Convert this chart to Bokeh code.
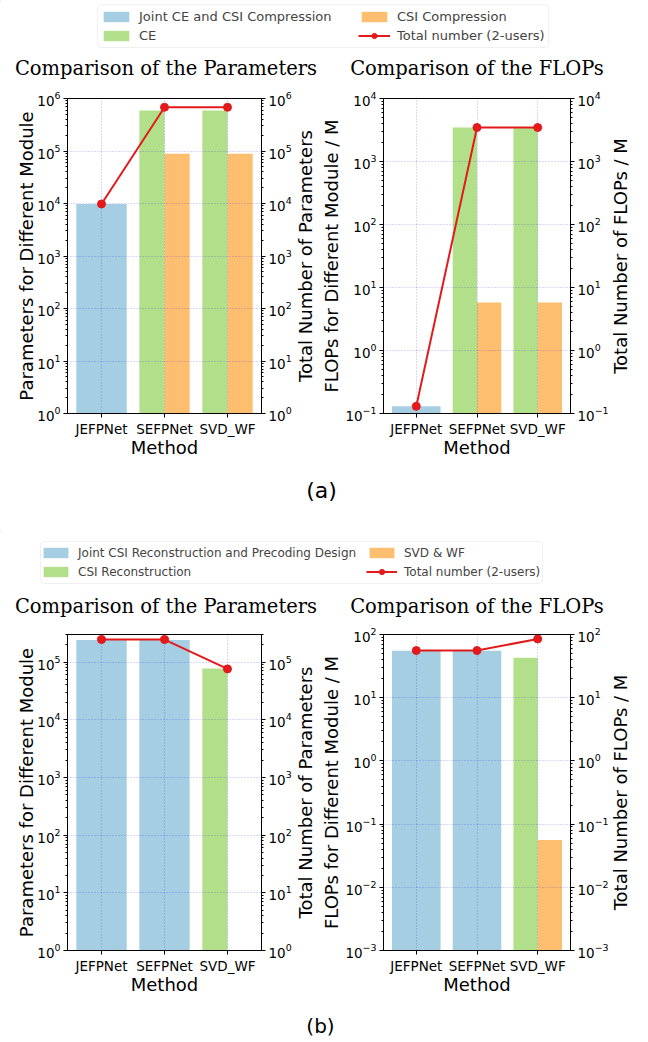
import math
from bokeh.plotting import figure
from bokeh.models import (Range1d, FactorRange, LogAxis, LogScale, Legend, LegendItem,
                          Label, ColumnDataSource, FixedTicker, BoxAnnotation)
from bokeh.layouts import column, row
from bokeh.transform import dodge
from bokeh.embed import file_html
from bokeh.resources import INLINE

methods = ["JEFPNet", "SEFPNet", "SVD_WF"]

# ---- (a) ----
a_param_joint = [9.8e3, None, None]
a_param_ce = [None, 5.9e5, 5.9e5]
a_param_comp = [None, 8.9e4, 8.9e4]
a_param_total = [9.8e3, 6.8e5, 6.8e5]
a_flops_joint = [0.13, None, None]
a_flops_ce = [None, 3.45e3, 3.45e3]
a_flops_comp = [None, 5.8, 5.8]
a_flops_total = [0.13, 3.46e3, 3.46e3]
a_labels = ["Joint CE and CSI Compression", "CE", "CSI Compression", "Total number (2-users)"]

# ---- (b) ----
b_param_joint = [2.4e5, 2.4e5, None]
b_param_rec = [None, None, 7.7e4]
b_param_svd = [None, None, None]
b_param_total = [2.45e5, 2.45e5, 7.6e4]
b_flops_joint = [55.5, 55.5, None]
b_flops_rec = [None, None, 42.8]
b_flops_svd = [None, None, 0.056]
b_flops_total = [55.8, 55.8, 85.0]
b_labels = ["Joint CSI Reconstruction and Precoding Design", "CSI Reconstruction", "SVD & WF",
            "Total number (2-users)"]

a_param_range = (1, 1e6)
a_flops_range = (0.1, 1e4)
b_param_range = (1, 3e5)
b_flops_range = (1e-3, 1e2)

title_params = "Comparison of the Parameters"
title_flops = "Comparison of the FLOPs"
ylab_params = "Parameters for Different Module"
ylab_params_total = "Total Number of Parameters"
ylab_flops = "FLOPs for Different Module / M"
ylab_flops_total = "Total Number of FLOPs / M"

C1, C2, C3, RED = "#a6cee3", "#b2df8a", "#fdbf6f", "#e31a1c"
FONT = "DejaVu Sans"


def log_ticker(lo, hi):
    k0, k1 = math.floor(math.log10(lo)), math.ceil(math.log10(hi))
    majors = [10.0 ** k for k in range(k0, k1 + 1) if lo * 0.999 <= 10.0 ** k <= hi * 1.001]
    minors = [m * 10.0 ** k for k in range(k0 - 1, k1 + 1) for m in range(2, 10)
              if lo <= m * 10.0 ** k <= hi]
    return FixedTicker(ticks=majors, minor_ticks=minors)


def style_axis(ax):
    ax.axis_label_text_font = FONT
    ax.axis_label_text_font_style = "normal"
    ax.axis_label_text_font_size = "18px"
    ax.axis_label_text_color = "black"
    ax.major_label_text_font = FONT
    ax.major_label_text_font_size = "13.5px"
    ax.major_label_text_color = "black"
    ax.major_tick_out = 4
    ax.major_tick_in = 0
    ax.minor_tick_out = 2
    ax.minor_tick_in = 0
    ax.axis_line_color = "black"
    ax.major_tick_line_color = "black"
    ax.minor_tick_line_color = "black"
    ax.major_label_standoff = 3
    ax.axis_label_standoff = -3


def panel(ylab_l, yr, joint, mid, right, total, width, height, bl, br, bt, bb, ylab_standoff=-3):
    lo, hi = yr
    p = figure(width=width, height=height,
               x_range=FactorRange(factors=methods, range_padding=0.08 / 3),
               y_range=Range1d(lo, hi), y_axis_type="log",
               output_backend="svg", toolbar_location=None,
               min_border_left=bl, min_border_right=br, min_border_top=bt, min_border_bottom=bb)
    p.extra_y_ranges = {"r": Range1d(lo, hi)}
    p.extra_y_scales = {"r": LogScale()}
    for vals, color, off, w in [(joint, C1, 0.0, 0.8), (mid, C2, -0.2, 0.4), (right, C3, 0.2, 0.4)]:
        xs = [m for m, v in zip(methods, vals) if v is not None]
        ys = [v for v in vals if v is not None]
        if xs:
            src = ColumnDataSource(dict(m=xs, v=ys))
            r = p.vbar(x=dodge("m", off, range=p.x_range), top="v", bottom=lo, width=w,
                       source=src, fill_color=color, line_color=None)
            r.level = "image"
    tsrc = ColumnDataSource(dict(m=methods, v=total))
    p.line(x="m", y="v", source=tsrc, y_range_name="r", line_color=RED, line_width=2)
    p.scatter(x="m", y="v", source=tsrc, y_range_name="r", size=8, fill_color=RED, line_color=RED)

    t = log_ticker(lo, hi)
    p.yaxis.ticker = t
    p.yaxis.axis_label = ylab_l
    ax_r = LogAxis(y_range_name="r", ticker=t)
    p.add_layout(ax_r, "right")
    p.xaxis.axis_label = "Method"
    for ax in p.axis:
        style_axis(ax)
    p.yaxis[0].axis_label_standoff = ylab_standoff
    p.ygrid.ticker = t
    for g in (p.xgrid, p.ygrid):
        g.grid_line_color = "blue"
        g.grid_line_alpha = 0.3
        g.grid_line_dash = "1 2"
        g.grid_line_width = 1
    p.outline_line_color = "black"
    p.outline_line_alpha = 1
    p.outline_line_width = 1
    return p


def blank_fig(width, height):
    p = figure(width=width, height=height, x_axis_type=None, y_axis_type=None,
               x_range=Range1d(0, width), y_range=Range1d(height, 0),
               output_backend="svg", toolbar_location=None,
               min_border_left=0, min_border_right=0, min_border_top=0, min_border_bottom=0)
    p.outline_line_color = None
    return p


def add_text(p, text, x, y, size, font=FONT):
    p.add_layout(Label(x=x, y=y, x_units="screen", y_units="screen", text=text,
                       text_align="center", text_baseline="middle",
                       text_font=font, text_font_size=size, text_color="black"))


def legend_fig(height, box, labels, x1, x2, y, fsize, gw):
    p = blank_fig(648, height)
    l, r, t, b = box
    p.add_layout(BoxAnnotation(left=l, right=r, top=t, bottom=b, fill_alpha=0,
                               line_color="#cccccc", line_width=1, border_radius=4))
    r1 = p.vbar(x=[-1000], top=[1], bottom=0, width=1, fill_color=C1, line_color=None)
    r2 = p.vbar(x=[-1000], top=[1], bottom=0, width=1, fill_color=C2, line_color=None)
    r3 = p.vbar(x=[-1000], top=[1], bottom=0, width=1, fill_color=C3, line_color=None)
    rl = p.line(x=[-1000, -990], y=[1, 1], line_color=RED, line_width=2)
    rs = p.scatter(x=[-1000], y=[1], size=8, fill_color=RED, line_color=RED)
    groups = [([LegendItem(label=labels[0], renderers=[r1]), LegendItem(label=labels[1], renderers=[r2])], x1),
              ([LegendItem(label=labels[2], renderers=[r3]), LegendItem(label=labels[3], renderers=[rl, rs])], x2)]
    for items, x in groups:
        lg = Legend(items=items, location=(x, y), orientation="vertical",
                    border_line_color=None, background_fill_alpha=0, padding=0, margin=0,
                    spacing=4, glyph_width=gw, glyph_height=13, label_standoff=7,
                    label_text_font=FONT, label_text_font_size=fsize, label_height=15)
        p.add_layout(lg)
    return p


def title_fig(height, y):
    p = blank_fig(648, height)
    add_text(p, title_params, 165.5, y, "19.5px", font="DejaVu Serif")
    add_text(p, title_flops, 476.5, y, "19.5px", font="DejaVu Serif")
    return p


def side_label_fig(width, height, text, bl, bt, bb, standoff):
    # right-hand (twin) axis title, reading bottom-to-top, centred on the panel frame
    p = figure(width=width, height=height, x_axis_type=None,
               x_range=Range1d(0, 1), y_range=Range1d(0, 1),
               output_backend="svg", toolbar_location=None,
               min_border_left=bl, min_border_right=width - bl - 1,
               min_border_top=bt, min_border_bottom=bb)
    p.outline_line_color = None
    p.grid.visible = False
    ax = p.yaxis[0]
    ax.ticker = FixedTicker(ticks=[])
    ax.axis_line_color = None
    ax.major_tick_out = 0
    ax.minor_tick_out = 0
    ax.major_label_text_font_size = "0px"
    ax.axis_label = text
    ax.axis_label_text_font = FONT
    ax.axis_label_text_font_style = "normal"
    ax.axis_label_text_font_size = "18px"
    ax.axis_label_text_color = "black"
    ax.axis_label_standoff = standoff
    return p


def panel_row(height, bt, bb, pr, fl):
    p1 = panel(ylab_params, pr[0], pr[1], pr[2], pr[3], pr[4], 294, height, 67, 30, bt, bb)
    s1 = side_label_fig(24, height, ylab_params_total, 23, bt, bb, 3)
    p2 = panel(ylab_flops, fl[0], fl[1], fl[2], fl[3], fl[4], 293, height, 60, 36, bt, bb,
               ylab_standoff=0)
    s2 = side_label_fig(37, height, ylab_flops_total, 23, bt, bb, 5)
    return row(p1, s1, p2, s2)


def label_fig(height, text, x, y, size):
    p = blank_fig(648, height)
    add_text(p, text, x, y, size)
    return p


legA = legend_fig(52, (97, 548, 4, 47), a_labels, 100, 358, 9, "13px", 32)
titA = title_fig(38, 22)
rowA = panel_row(380, 8, 57,
                 (a_param_range, a_param_joint, a_param_ce, a_param_comp, a_param_total),
                 (a_flops_range, a_flops_joint, a_flops_ce, a_flops_comp, a_flops_total))
labA = label_fig(60, "(a)", 321, 40, "22px")

legB = legend_fig(60, (40, 542, 11, 53), b_labels, 40, 366, 11, "12px", 31)
titB = title_fig(36, 20)
rowB = panel_row(382, 8, 58,
                 (b_param_range, b_param_joint, b_param_rec, b_param_svd, b_param_total),
                 (b_flops_range, b_flops_joint, b_flops_rec, b_flops_svd, b_flops_total))
labB = label_fig(34, "(b)", 320, 17, "20px")

layout = column(legA, titA, rowA, labA, legB, titB, rowB, labB)
open("out.html", "w").write(file_html(layout, INLINE))
